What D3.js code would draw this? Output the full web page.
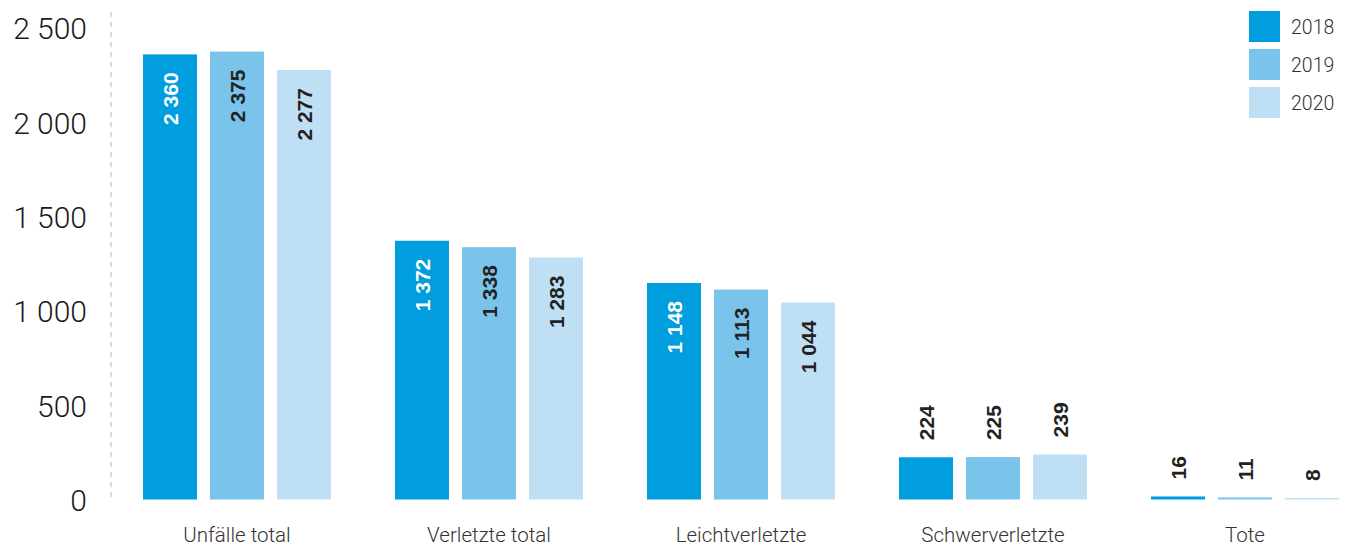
<!DOCTYPE html>
<html>
<head>
<meta charset="utf-8">
<script src="https://cdn.jsdelivr.net/npm/d3@7"></script>
<style>
  html, body { margin: 0; padding: 0; background: #fff; }
  svg { display: block; }
</style>
</head>
<body>
<svg id="chart" width="1365" height="546"></svg>
<script>
// Accident statistics by category and year
const categories = ["Unfälle total", "Verletzte total", "Leichtverletzte", "Schwerverletzte", "Tote"];
const years = ["2018", "2019", "2020"];
const values2018 = [2360, 1372, 1148, 224, 16];
const values2019 = [2375, 1338, 1113, 225, 11];
const values2020 = [2277, 1283, 1044, 239, 8];
const yTicks = [0, 500, 1000, 1500, 2000, 2500];

const seriesValues = [values2018, values2019, values2020];
const colors = ["#009ddf", "#7ac4eb", "#bfe0f4"];
const labelColors = ["#ffffff", "#222222", "#222222"];

const svg = d3.select("#chart");

// Thousands separated with a space
const fmt = v => d3.format(",")(v).replace(/,/g, " ");

const x0 = d3.scaleBand()
  .domain(categories)
  .range([111, 1371])
  .paddingInner(0.254)
  .paddingOuter(0.127);

const x1 = d3.scaleBand()
  .domain(years)
  .range([0, x0.bandwidth()])
  .paddingInner(0.194)
  .paddingOuter(0);

const y = d3.scaleLinear()
  .domain([0, 2500])
  .range([499.5, 28]);

// Dashed vertical axis line
svg.append("line")
  .attr("x1", 111).attr("x2", 111)
  .attr("y1", 12).attr("y2", y(0))
  .attr("stroke", "#cfcfcf")
  .attr("stroke-width", 1.5)
  .attr("stroke-dasharray", "5,5");

// Y tick labels
const yAxis = d3.axisLeft(y).tickValues(yTicks).tickFormat(fmt).tickSize(0).tickPadding(0);
const yg = svg.append("g").attr("transform", "translate(87,0)").call(yAxis);
yg.select(".domain").remove();
yg.selectAll("text")
  .attr("font-family", "Roboto, 'Liberation Sans', sans-serif")
  .attr("font-weight", 300)
  .attr("font-size", 30)
  .attr("fill", "#1a1a1a")
  .attr("dy", "0.36em");

// Category labels
const xAxis = d3.axisBottom(x0).tickSize(0).tickPadding(0);
const xg = svg.append("g").attr("transform", "translate(0,527)").call(xAxis);
xg.select(".domain").remove();
xg.selectAll("text")
  .attr("font-family", "Roboto, 'Liberation Sans', sans-serif")
  .attr("font-weight", 300)
  .attr("font-size", 20.5)
  .attr("fill", "#333")
  .attr("dy", "0.71em");

// Bars
const groups = svg.append("g").selectAll("g")
  .data(categories)
  .join("g")
  .attr("transform", d => `translate(${x0(d)},0)`);

years.forEach((yr, si) => {
  groups.append("rect")
    .attr("x", x1(yr))
    .attr("width", x1.bandwidth())
    .attr("y", (d, i) => y(seriesValues[si][i]))
    .attr("height", (d, i) => y(0) - y(seriesValues[si][i]))
    .attr("fill", colors[si]);
});

// Value labels, rotated; inside tall bars, above short ones
years.forEach((yr, si) => {
  groups.append("text")
    .attr("transform", (d, i) => {
      const v = seriesValues[si][i];
      const cx = x1(yr) + x1.bandwidth() / 2;
      const inside = v > 600;
      const ty = inside ? y(v) + 18 : y(v) - 17;
      return `translate(${cx},${ty}) rotate(-90)`;
    })
    .attr("text-anchor", (d, i) => seriesValues[si][i] > 600 ? "end" : "start")
    .attr("dy", "0.36em")
    .attr("font-family", "'Liberation Sans', Arial, sans-serif")
    .attr("font-weight", 700)
    .attr("font-size", 21)
    .attr("fill", (d, i) => seriesValues[si][i] > 600 ? labelColors[si] : "#222222")
    .text((d, i) => fmt(seriesValues[si][i]));
});

// Legend
const legend = svg.append("g").attr("transform", "translate(1249,11)");
years.forEach((yr, i) => {
  const g = legend.append("g").attr("transform", `translate(0,${i * 38})`);
  g.append("rect").attr("width", 31).attr("height", 31).attr("fill", colors[i]);
  g.append("text")
    .attr("x", 42).attr("y", 15.5).attr("dy", "0.36em")
    .attr("font-family", "Roboto, 'Liberation Sans', sans-serif")
    .attr("font-weight", 300)
    .attr("font-size", 19.5)
    .attr("fill", "#333")
    .text(yr);
});
</script>
</body>
</html>
